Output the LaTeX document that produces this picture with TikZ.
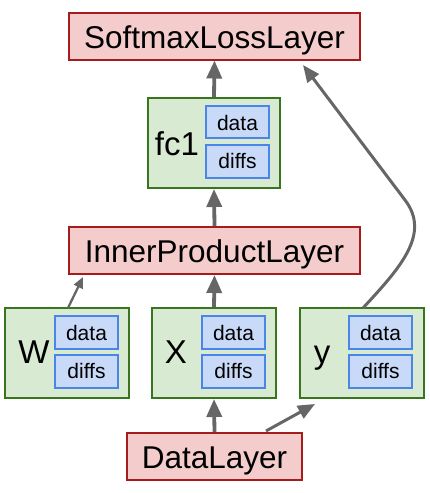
\documentclass[tikz,border=0pt]{standalone}
\usepackage{fontspec}
\setmainfont{Liberation Sans}
\usetikzlibrary{arrows.meta}
\definecolor{pinkfill}{HTML}{F4CCCC}
\definecolor{redline}{HTML}{A61C1C}
\definecolor{greenfill}{HTML}{D9EAD3}
\definecolor{greenline}{HTML}{38761D}
\definecolor{bluefill}{HTML}{C9DAF8}
\definecolor{blueline}{HTML}{4A86E8}
\definecolor{arrowgray}{HTML}{666666}
\begin{document}
\begin{tikzpicture}[x=1pt,y=-1pt,
  layerbox/.style={draw=redline,fill=pinkfill,line width=2pt,inner sep=0pt,
     minimum height=47pt,text height=24pt,text depth=0pt,font=\fontsize{31.5}{36}\selectfont},
  blobbox/.style={draw=greenline,fill=greenfill,line width=2pt,inner sep=0pt,
     minimum width=124pt,minimum height=90pt},
  subbox/.style={draw=blueline,fill=bluefill,line width=2pt,inner sep=0pt,
     minimum width=63pt,minimum height=32pt,font=\fontsize{21}{24}\selectfont},
  datatext/.style={subbox,text height=16pt,text depth=0pt},
  diffstext/.style={subbox,text height=14pt,text depth=0pt},
  bloblabel/.style={anchor=base,inner sep=0pt,font=\fontsize{33}{38}\selectfont},
  bigarrow/.style={draw=arrowgray,line width=3.8pt,-{Triangle[length=18pt,width=15pt]}},
  midarrow/.style={draw=arrowgray,line width=3pt,-{Triangle[length=17pt,width=14pt]}},
  thinarrow/.style={draw=arrowgray,line width=2.3pt,-{Triangle[length=11pt,width=9.5pt]}}
]
\useasboundingbox (0,0) rectangle (430,493);

% layers
\node[layerbox,minimum width=291pt] (softmax) at (214.5,36) {SoftmaxLossLayer};
\node[layerbox,minimum width=291pt] (ipl) at (214.5,250.5) {InnerProductLayer};
\node[layerbox,minimum width=175pt] (datalayer) at (214.5,456.5) {DataLayer};

% fc1 blob
\node[blobbox,minimum width=132pt] (fc1) at (214,143) {};
\node[bloblabel] (fc1lab) at (177,155) {fc1};
\node[datatext] (fc1data) at (237.5,122) {data};
\node[diffstext,minimum height=33pt] (fc1diffs) at (237.5,161.5) {diffs};

% W blob
\node[blobbox] (W) at (67,353) {};
\node[bloblabel] (Wlab) at (34,363) {W};
\node[datatext,minimum height=33pt] (Wdata) at (86.5,332.5) {data};
\node[diffstext,minimum height=33pt] (Wdiffs) at (86.5,371.5) {diffs};

% X blob
\node[blobbox] (X) at (214,353) {};
\node[bloblabel] (Xlab) at (176,363) {X};
\node[datatext,minimum height=33pt] (Xdata) at (233.5,332.5) {data};
\node[diffstext,minimum height=33pt] (Xdiffs) at (233.5,371.5) {diffs};

% y blob
\node[blobbox] (Y) at (361.5,353) {};
\node[bloblabel] (Ylab) at (322,363) {y};
\node[datatext,minimum height=33pt] (Ydata) at (380.5,332.5) {data};
\node[diffstext,minimum height=33pt] (Ydiffs) at (380.5,371.5) {diffs};

% connector end points
\coordinate (wtip) at (83,277);
\coordinate (wstart) at (68,308);
\coordinate (dstart) at (266,431);
\coordinate (ytip) at (315,404);
\coordinate (ystart) at (363,308);
\coordinate (ctip) at (303,65);

% connectors
\draw[bigarrow] (fc1.north) -- (softmax.south);
\draw[bigarrow] (ipl.north) -- (fc1.south);
\draw[bigarrow] (X.north) -- (ipl.south);
\draw[bigarrow] (datalayer.north) -- (X.south);
\draw[thinarrow] (wstart) -- (wtip);
\draw[midarrow] (dstart) -- (ytip);
\draw[midarrow] (ystart) .. controls (400,268) and (431,234) .. (405,200) -- (ctip);
\end{tikzpicture}
\end{document}
